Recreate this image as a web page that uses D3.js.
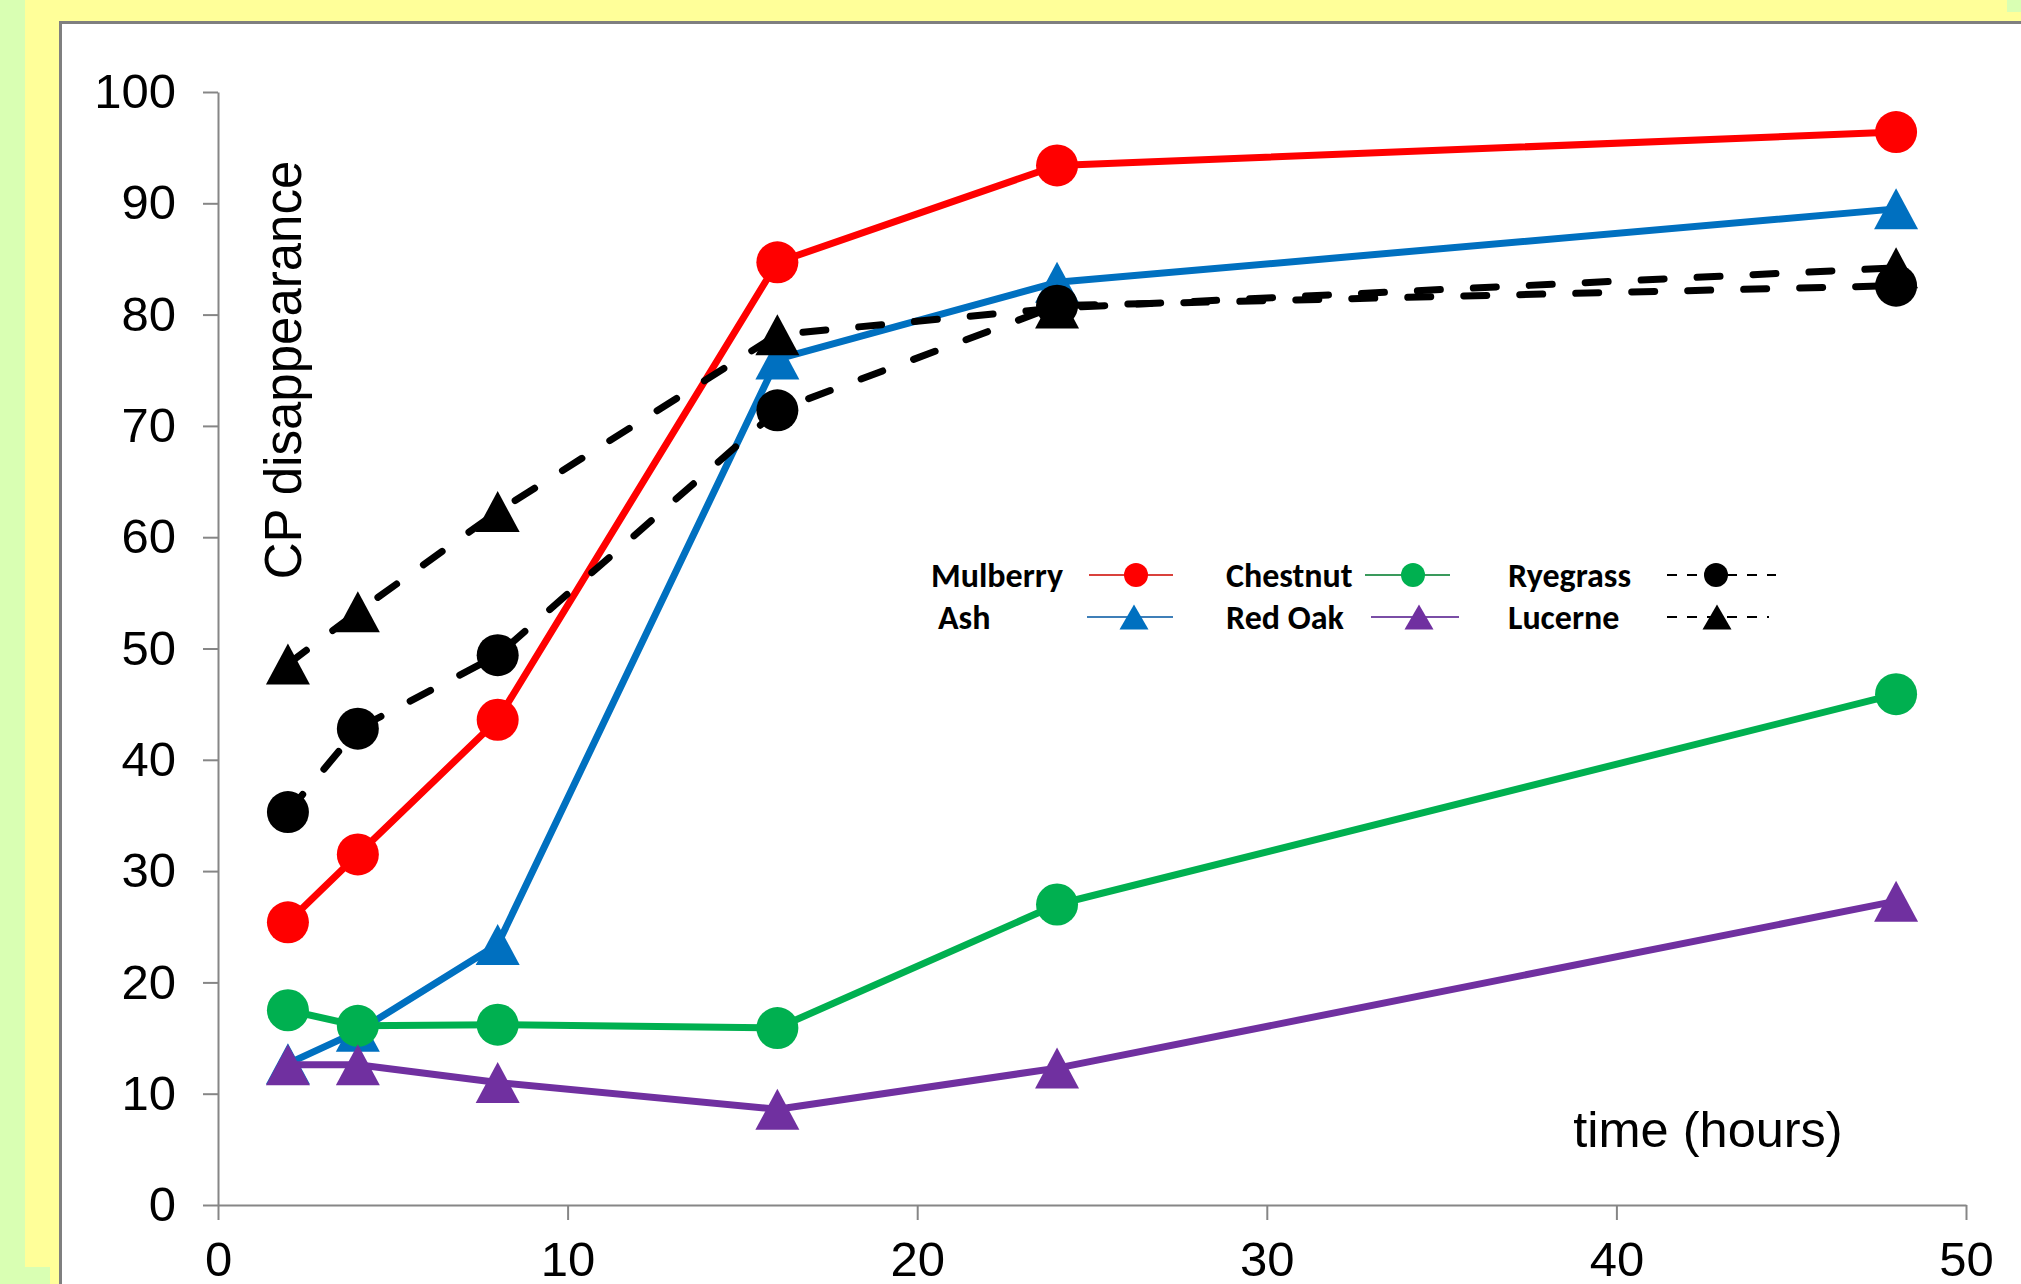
<!DOCTYPE html>
<html>
<head>
<meta charset="utf-8">
<script src="https://cdn.jsdelivr.net/npm/d3@7"></script>
<style>
  html, body { margin: 0; padding: 0; background: #d9ffb3; }
  svg { display: block; }
</style>
</head>
<body>
<svg id="chart" width="2021" height="1284"></svg>
<script>
// ---------- data ----------
const timeHours = [2, 4, 8, 16, 24, 48];
const mulberry  = [25.4, 31.5, 43.6, 84.7, 93.4, 96.4];
const ash       = [12.7, 15.6, 23.4, 76.0, 82.9, 89.5];
const chestnut  = [17.5, 16.1, 16.2, 15.9, 27.0, 45.9];
const redOak    = [12.6, 12.6, 11.0, 8.6, 12.3, 27.3];
const ryegrass  = [35.3, 42.8, 49.4, 71.4, 80.8, 82.6];
const lucerne   = [48.6, 53.3, 62.3, 78.2, 80.6, 84.2];
const xTicks = [0, 10, 20, 30, 40, 50];
const yTicks = [0, 10, 20, 30, 40, 50, 60, 70, 80, 90, 100];

const series = [
  { name: "Mulberry", values: mulberry, color: "#ff0000", legendColor: "#d9413c", marker: "circle", dashed: false },
  { name: "Ash",      values: ash,      color: "#0070c0", legendColor: "#3f7fb8", marker: "triangle", dashed: false },
  { name: "Chestnut", values: chestnut, color: "#00b050", legendColor: "#3a9a5c", marker: "circle", dashed: false },
  { name: "Red Oak",  values: redOak,   color: "#7030a0", legendColor: "#7a4ea6", marker: "triangle", dashed: false },
  { name: "Ryegrass", values: ryegrass, color: "#000000", legendColor: "#000000", marker: "circle", dashed: true },
  { name: "Lucerne",  values: lucerne,  color: "#000000", legendColor: "#000000", marker: "triangle", dashed: true }
];

// ---------- frame ----------
const svg = d3.select("#chart");
svg.append("rect").attr("x", 0).attr("y", 0).attr("width", 2021).attr("height", 1284).attr("fill", "#d9ffb3");
svg.append("rect").attr("x", 25).attr("y", 0).attr("width", 1982).attr("height", 1267).attr("fill", "#ffff99");
svg.append("rect").attr("x", 25).attr("y", 12).attr("width", 1996).attr("height", 1255).attr("fill", "#ffff99");
svg.append("rect").attr("x", 50).attr("y", 1260).attr("width", 20).attr("height", 24).attr("fill", "#ffff99");
svg.append("rect").attr("x", 60.5).attr("y", 22.5).attr("width", 2100).attr("height", 1400)
  .attr("fill", "#ffffff").attr("stroke", "#7f7f7f").attr("stroke-width", 3);

// ---------- scales ----------
const x = d3.scaleLinear().domain([0, 50]).range([218, 1966]);
const y = d3.scaleLinear().domain([0, 100]).range([1205, 92]);

const axisFont = "'Liberation Sans', Arial, sans-serif";
const gy = svg.append("g").attr("transform", `translate(${x(0)},0)`)
  .call(d3.axisLeft(y).tickValues(yTicks).tickSize(15).tickSizeOuter(0).tickPadding(27));
const gx = svg.append("g").attr("transform", `translate(0,${y(0)})`)
  .call(d3.axisBottom(x).tickValues(xTicks).tickSize(15).tickSizeOuter(0).tickPadding(21));
[gx, gy].forEach(g => {
  g.select(".domain").attr("stroke", "#868686").attr("stroke-width", 2);
  g.selectAll(".tick line").attr("stroke", "#868686").attr("stroke-width", 2);
  g.selectAll(".tick text").attr("fill", "#000").style("font-family", axisFont).style("font-size", "49px");
});

// axis titles
svg.append("text").attr("transform", "translate(301,370) rotate(-90)")
  .attr("text-anchor", "middle").style("font-family", axisFont).style("font-size", "51px")
  .text("CP disappearance");
svg.append("text").attr("x", 1708).attr("y", 1147)
  .attr("text-anchor", "middle").style("font-family", axisFont).style("font-size", "50.5px")
  .text("time (hours)");

// ---------- marks ----------
function trianglePath(w, h) {
  return `M0,${-h / 2}L${w / 2},${h / 2}L${-w / 2},${h / 2}Z`;
}
const line = d3.line().x(d => x(d[0])).y(d => y(d[1]));

series.forEach(s => {
  const pts = timeHours.map((t, i) => [t, s.values[i]]);
  const g = svg.append("g");
  g.append("path").datum(pts).attr("d", line)
    .attr("fill", "none").attr("stroke", s.color).attr("stroke-width", 7)
    .attr("stroke-linejoin", "round")
    .attr("stroke-linecap", s.dashed ? "round" : "butt")
    .attr("stroke-dasharray", s.dashed ? "23,33" : null);
  if (s.marker === "circle") {
    g.selectAll("circle").data(pts).join("circle")
      .attr("cx", d => x(d[0])).attr("cy", d => y(d[1])).attr("r", 21).attr("fill", s.color);
  } else {
    g.selectAll("path.m").data(pts).join("path").attr("class", "m")
      .attr("transform", d => `translate(${x(d[0])},${y(d[1])})`)
      .attr("d", trianglePath(44, 41)).attr("fill", s.color);
  }
});

// ---------- legend ----------
const legendFont = "Carlito, Lato, 'Open Sans', sans-serif";
const legendItems = [
  { s: 0, tx: 931,  ty: 575, l0: 1089, l1: 1173, mx: 1136 },
  { s: 1, tx: 938,  ty: 617, l0: 1087, l1: 1173, mx: 1134 },
  { s: 2, tx: 1226, ty: 575, l0: 1365, l1: 1450, mx: 1413 },
  { s: 3, tx: 1226, ty: 617, l0: 1371, l1: 1459, mx: 1419 },
  { s: 4, tx: 1508, ty: 575, l0: 1667, l1: 1776, mx: 1716 },
  { s: 5, tx: 1508, ty: 617, l0: 1667, l1: 1769, mx: 1717 }
];
const lg = svg.append("g");
legendItems.forEach(it => {
  const s = series[it.s];
  lg.append("text").attr("x", it.tx).attr("y", it.ty).attr("dy", "0.35em")
    .style("font-family", legendFont).style("font-weight", "700").style("font-size", "34px")
    .attr("fill", "#000").text(s.name);
  lg.append("line").attr("x1", it.l0).attr("x2", it.l1).attr("y1", it.ty).attr("y2", it.ty)
    .attr("stroke", s.legendColor).attr("stroke-width", 2)
    .attr("stroke-dasharray", s.dashed ? "10,10" : null);
  if (s.marker === "circle") {
    lg.append("circle").attr("cx", it.mx).attr("cy", it.ty).attr("r", 12).attr("fill", s.color);
  } else {
    lg.append("path").attr("transform", `translate(${it.mx},${it.ty})`)
      .attr("d", trianglePath(29, 25)).attr("fill", s.color);
  }
});
</script>
</body>
</html>
